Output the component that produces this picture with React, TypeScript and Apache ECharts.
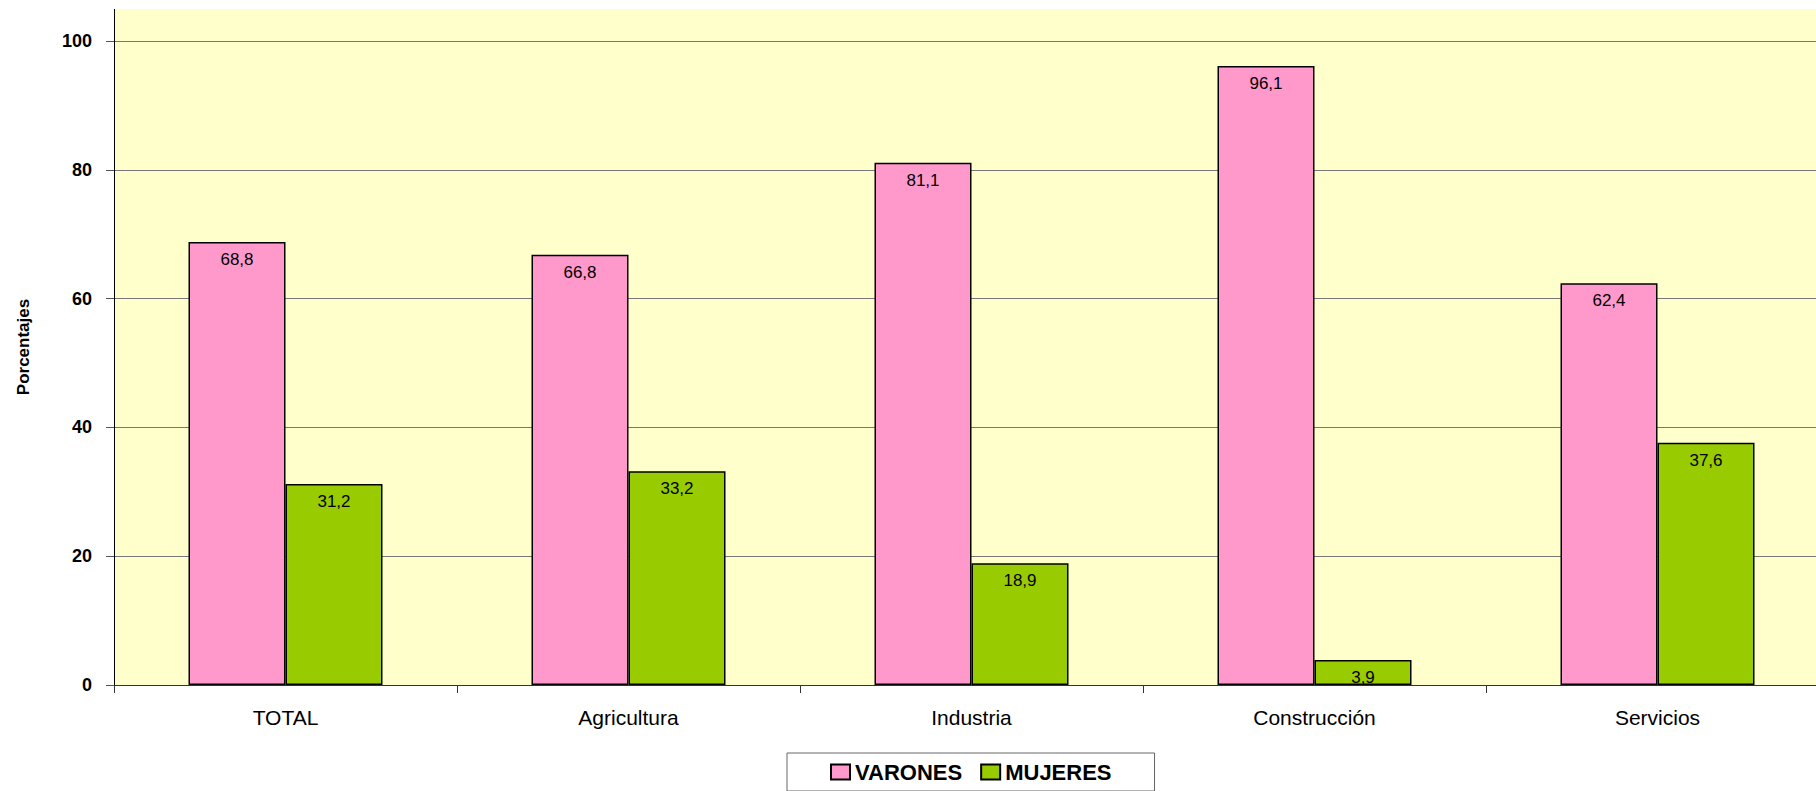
import React, { useEffect, useRef } from "react";
import * as echarts from "echarts";

const categories = ["TOTAL", "Agricultura", "Industria", "Construcción", "Servicios"];
const varones = [68.8, 66.8, 81.1, 96.1, 62.4];
const mujeres = [31.2, 33.2, 18.9, 3.9, 37.6];
const yTicks = { min: 0, max: 100, interval: 20 };
const yTitle = "Porcentajes";

const FONT = "'Liberation Sans', Arial, sans-serif";
const fmt = (v: number) => v.toFixed(1).replace(".", ",");

export default function App() {
  const ref = useRef<HTMLDivElement>(null);
  useEffect(() => {
    if (!ref.current) return;
    const chart = echarts.init(ref.current, undefined, { renderer: "svg" });
    const W = 1840;
    const gridLeft = 114;
    const gridTop = 41;
    const gridBottom = 106;
    const plotTop = 9;
    const labelStyle = {
      show: true,
      position: "insideTop" as const,
      distance: 9,
      color: "#000",
      fontFamily: FONT,
      fontSize: 17,
      formatter: (p: any) => fmt(p.value),
    };
    chart.setOption({
      animation: false,
      backgroundColor: "#fff",
      textStyle: { fontFamily: FONT },
      graphic: [
        {
          type: "rect",
          z: -10,
          silent: true,
          shape: { x: gridLeft, y: plotTop, width: W - gridLeft, height: 791 - gridBottom - plotTop },
          style: { fill: "#FFFFCC" },
        },
        {
          type: "line",
          z: 10,
          silent: true,
          shape: { x1: gridLeft + 0.5, y1: plotTop, x2: gridLeft + 0.5, y2: gridTop },
          style: { stroke: "#000", lineWidth: 1 },
        },
        {
          type: "text",
          x: 23,
          y: 347,
          rotation: Math.PI / 2,
          silent: true,
          style: {
            text: yTitle,
            fontFamily: FONT,
            fontSize: 17,
            fontWeight: "bold",
            fill: "#000",
            align: "center",
            verticalAlign: "middle",
          },
        },
      ],
      grid: { left: gridLeft, right: W - gridLeft - 1715, top: gridTop, bottom: gridBottom, containLabel: false },
      legend: {
        left: 787,
        top: 753,
        padding: [8, 43, 8, 43],
        borderColor: "#666",
        borderWidth: 1,
        backgroundColor: "#fff",
        itemWidth: 19,
        itemHeight: 15,
        itemGap: 18,
        icon: "rect",
        textStyle: { fontFamily: FONT, fontSize: 22, fontWeight: "bold", color: "#000" },
        data: ["VARONES", "MUJERES"],
      },
      xAxis: {
        type: "category",
        data: categories,
        axisLine: { show: true, lineStyle: { color: "#333", width: 1 } },
        axisTick: { show: true, length: 8, lineStyle: { color: "#333" } },
        axisLabel: { color: "#000", fontFamily: FONT, fontSize: 21, margin: 22 },
        splitLine: { show: false },
      },
      yAxis: {
        type: "value",
        min: yTicks.min,
        max: yTicks.max,
        interval: yTicks.interval,
        axisLine: { show: true, lineStyle: { color: "#000", width: 1 } },
        axisTick: { show: true, length: 8, lineStyle: { color: "#555" } },
        axisLabel: { color: "#000", fontFamily: FONT, fontSize: 18, fontWeight: "bold", margin: 22 },
        splitLine: { show: true, lineStyle: { color: "#777", width: 1.2 } },
      },
      series: [
        {
          name: "VARONES",
          type: "bar",
          data: varones,
          barWidth: 97,
          barGap: "0%",
          itemStyle: { color: "#FF99CC", borderColor: "#000", borderWidth: 1.5 },
          label: labelStyle,
        },
        {
          name: "MUJERES",
          type: "bar",
          data: mujeres,
          barWidth: 97,
          barGap: "0%",
          itemStyle: { color: "#99CC00", borderColor: "#000", borderWidth: 1.5 },
          label: labelStyle,
        },
      ],
    });
    return () => chart.dispose();
  }, []);
  return (
    <div
      ref={ref}
      style={{ position: "fixed", left: 0, top: 0, width: 1840, height: 791 }}
    />
  );
}
